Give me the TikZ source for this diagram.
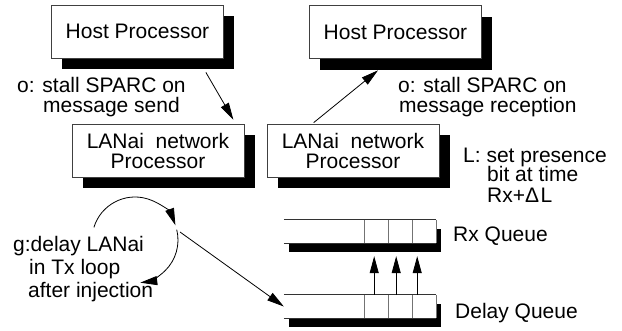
\documentclass[tikz,border=0pt]{standalone}
\usepackage{fontspec}
\setmainfont{Liberation Sans}
\usetikzlibrary{arrows.meta,shadows,calc}
\begin{document}
\begin{tikzpicture}[x=1pt,y=1pt,
  lbl/.style={font=\fontsize{21}{24}\selectfont, inner sep=0pt, anchor=base west},
  procbox/.style={draw=black!75, line width=0.7pt, fill=white, minimum width=172pt, minimum height=53pt, inner sep=0pt, align=center, font=\fontsize{21}{20}\selectfont, drop shadow={shadow xshift=10.5pt, shadow yshift=-11.5pt, fill=black, opacity=1}},
  queue/.style={fill=white, minimum width=152pt, minimum height=23pt, inner sep=0pt, drop shadow={shadow xshift=5pt, shadow yshift=-9.5pt, fill=black, opacity=1}},
  qline/.style={draw=black!80, line width=0.7pt},
  cell/.style={draw=black!55, line width=0.7pt},
  arr/.style={line width=0.8pt, -{Triangle[length=17pt,width=9pt]}}
]
\fill[white] (0,0) rectangle (622,-331);
\useasboundingbox (0,0) rectangle (622,-331);

% processor boxes
\node[procbox] (hostL) at (137.5,-31.5) {Host Processor};
\node[procbox] (hostR) at (395.5,-32) {Host Processor};
\node[procbox] (lanL) at (158,-150.5) {LANai\ \ network\\Processor};
\node[procbox] (lanR) at (353,-150.5) {LANai\ \ network\\Processor};

% queues
\node[queue] (rxq) at (360,-231.5) {};
\node[queue] (dq) at (360,-306.5) {};
\foreach \q in {rxq,dq}{
  \draw[qline] (\q.north west) -- (\q.north east);
  \draw[qline] (\q.south west) -- (\q.south east);
  \foreach \d in {0,24,48,72}
    \draw[cell] ($(\q.north east)+(-\d,0)$) -- ($(\q.south east)+(-\d,0)$);
}

% labels
\node[lbl] (oL1) at (17,-93) {o: stall SPARC on};
\node[lbl] (oL2) at (43,-113) {message send};
\node[lbl] (oR1) at (398,-93) {o: stall SPARC on};
\node[lbl] (oR2) at (399,-113) {message reception};
\node[lbl] (L1) at (463,-163) {L: set presence};
\node[lbl] (L2) at (487,-182) {bit at time};
\node[lbl] (L3) at (487,-203) {Rx+Δ\kern1.5pt L};
\node[lbl] (g1) at (13,-252) {g:delay LANai};
\node[lbl] (g2) at (29,-275) {in Tx loop};
\node[lbl] (g3) at (28,-298) {after injection};
\node[lbl] (rxlbl) at (453,-242) {Rx Queue};
\node[lbl] (dqlbl) at (455,-319) {Delay Queue};

% connectors
\draw[arr] ($(hostL.south east)+(-18,-14)$) -- ($(lanL.north east)+(-11,4)$);
\draw[arr] ($(lanR.north west)+(47,1)$) -- ($(hostR.south)+(-17.5,-11.5)$);

\coordinate (loopc) at (135,-240);
\draw[arr] ($(loopc)+(163:43)$) arc[start angle=163,end angle=20,radius=43];
\draw[arr] ($(loopc)+(14:43)$) arc[start angle=14,end angle=-83,radius=43];
\coordinate (loopout) at ($(loopc)+(45,8)$);
\draw[arr] (loopout) -- (dq.west);

\foreach \d in {62,40,19}
  \draw[arr] ($(dq.north east)+(-\d,0)$) -- ($(rxq.south east)+(-\d,-13)$);
\end{tikzpicture}
\end{document}
